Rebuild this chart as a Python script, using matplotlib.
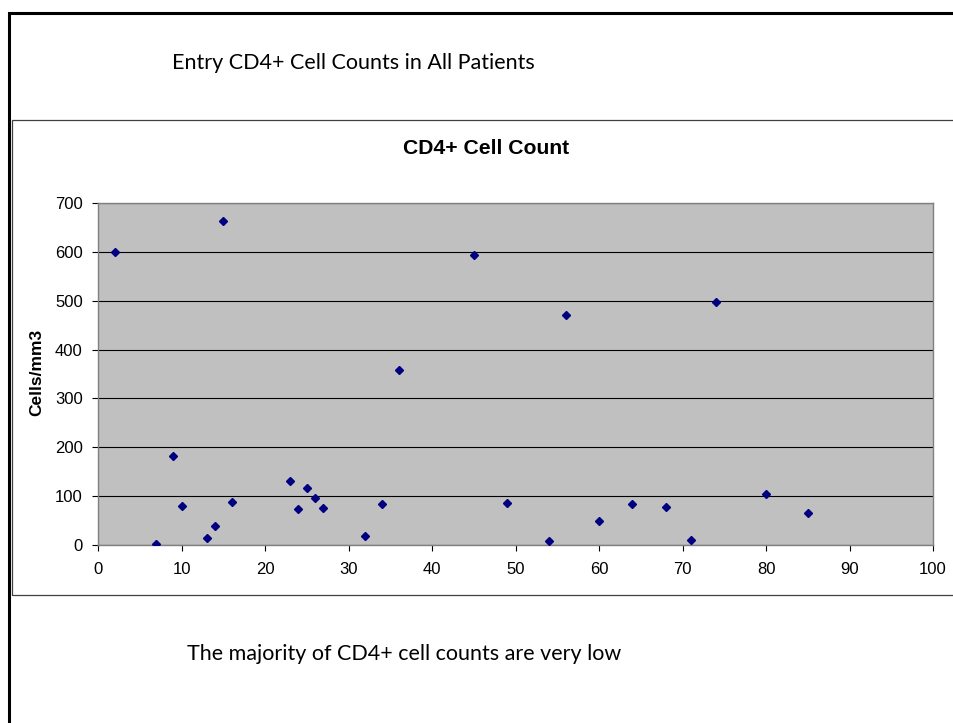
import matplotlib
matplotlib.use("Agg")
import matplotlib.pyplot as plt
from matplotlib.patches import Rectangle

# patient number vs entry CD4+ count (cells/mm3)
patient = [2, 7, 9, 10, 13, 14, 15, 16, 23, 24, 25, 26, 27, 32, 34, 36,
           45, 49, 54, 56, 60, 64, 68, 71, 74, 80, 85]
cd4 = [600, 2, 183, 80, 14, 38, 663, 87, 132, 73, 117, 97, 75, 18, 83, 359,
       593, 85, 8, 471, 49, 83, 78, 11, 497, 104, 65]

xticks = [0, 10, 20, 30, 40, 50, 60, 70, 80, 90, 100]
yticks = [0, 100, 200, 300, 400, 500, 600, 700]

W, H = 954, 723
fig = plt.figure(figsize=(W / 100, H / 100), dpi=100)
fig.patch.set_facecolor("white")

# slide border and chart area box
fig.add_artist(Rectangle((8.7 / W, -0.2), 1.2, 1.2 - 12.5 / H + 0.0,
                         transform=fig.transFigure, fill=False,
                         edgecolor="black", linewidth=2.2))
fig.add_artist(Rectangle((12.3 / W, 1 - 595 / H), 1.2, (595 - 120) / H,
                         transform=fig.transFigure, fill=False,
                         edgecolor="#404040", linewidth=0.9))

ax = fig.add_axes([98 / W, 1 - 545 / H, (933 - 98) / W, (545 - 203) / H])
ax.set_facecolor("#C0C0C0")
ax.plot(patient, cd4, linestyle="none", marker="D", markersize=3.6,
        color="#000080", markeredgecolor="#000080", zorder=3)

ax.set_xlim(0, 100)
ax.set_ylim(0, 700)
ax.set_xticks(xticks)
ax.set_yticks(yticks)
ax.set_axisbelow(True)
ax.yaxis.grid(True, color="black", linewidth=0.8)
for s in ax.spines.values():
    s.set_color("#808080")
    s.set_linewidth(1.0)
ax.tick_params(axis="both", direction="out", length=4, width=0.8,
               color="black", labelsize=12)
ax.tick_params(axis="x", pad=8.5)
ax.tick_params(axis="y", pad=7)
for lab in ax.get_xticklabels() + ax.get_yticklabels():
    lab.set_family("Liberation Sans")

fig.text(37 / W, 1 - 372 / H, "Cells/mm3", rotation=90, ha="center",
         va="center", fontsize=12.5, fontweight="bold",
         family="Liberation Sans")
fig.text(486 / W, 1 - 148 / H, "CD4+ Cell Count", ha="center", va="center",
         fontsize=15.2, fontweight="bold", family="Liberation Sans")

fig.text(172 / W, 1 - 63 / H, "Entry CD4+ Cell Counts in All Patients",
         ha="left", va="center", fontsize=15.5, family="Lato")
fig.text(187 / W, 1 - 654 / H, "The majority of CD4+ cell counts are very low",
         ha="left", va="center", fontsize=15.5, family="Lato")

fig.savefig("out.png", dpi=100)
